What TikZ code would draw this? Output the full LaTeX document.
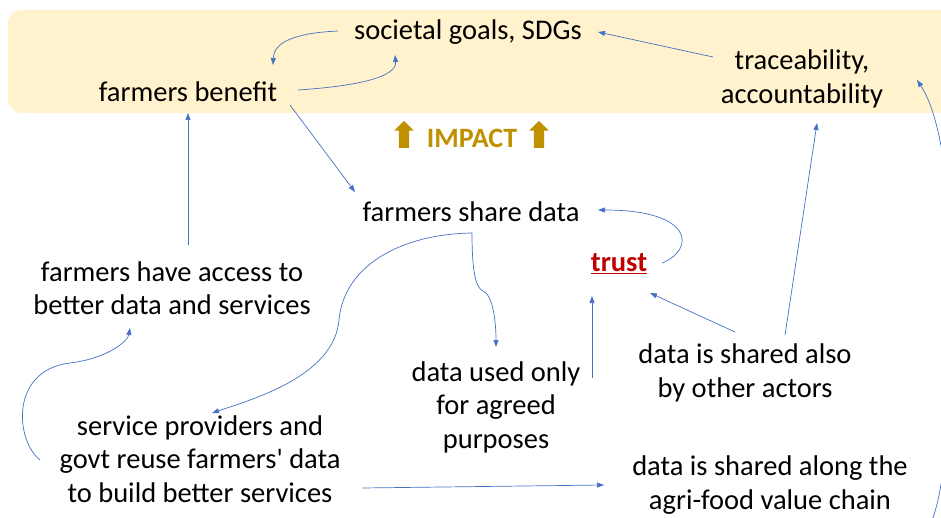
\documentclass[tikz,border=0pt]{standalone}
\usepackage{fontspec}
\setmainfont{Carlito}
\usetikzlibrary{arrows.meta,shapes.arrows,calc}
\definecolor{bandfill}{HTML}{FFF2CC}
\definecolor{linkblue}{HTML}{4472C4}
\definecolor{impactgold}{HTML}{BF9000}
\definecolor{trustred}{HTML}{C00000}

\begin{document}
\begin{tikzpicture}[x=1pt,y=-1pt,>={Triangle[length=7pt,width=5pt]}]
  \tikzstyle{item}=[align=center,text=black,font=\fontsize{28.5}{33.5}\selectfont]
  \tikzstyle{link}=[->,draw=linkblue,line width=0.7pt]
  \tikzstyle{uparrow}=[single arrow,draw=none,fill=impactgold,shape border rotate=90,
                       minimum width=19pt,minimum height=27pt,inner sep=5pt,
                       single arrow head extend=4.5pt]

  \useasboundingbox (0,0) rectangle (941,518);
  % impact band
  \fill[bandfill,rounded corners=14pt] (8,10) rectangle (970,113);

  \node[item] (goals)   at (468,32)  {societal goals, SDGs};
  \node[item] (benefit) at (188,92)  {farmers benefit};
  \node[item] (trace)   at (802,79)  {traceability,\\accountability};
  \node[item,text=impactgold,font=\fontsize{28}{33}\selectfont\bfseries] (impact) at (472,138) {IMPACT};
  \node[uparrow] (upl) at (404,137) {};
  \node[uparrow] (upr) at (539,137) {};
  \node[item] (share)   at (471,212) {farmers share data};
  \node[item,text=trustred,font=\fontsize{28.5}{33.5}\selectfont\bfseries] (trust) at (619,264) {\underline{trust}};
  \node[item] (access)  at (172,288) {farmers have access to\\better data and services};
  \node[item] (used)    at (496,407) {data used only\\for agreed\\purposes};
  \node[item] (others)  at (745,373) {data is shared also\\by other actors};
  \node[item] (reuse)   at (200,459) {service providers and\\govt reuse farmers\textquotesingle\ data\\to build better services};
  \node[item] (chain)   at (770,485) {data is shared along the\\agri-food value chain};

  % links
  \draw[link] ($(goals)+(-130,-1)$) .. controls +(-43,2) and +(1,-23) .. ($(benefit)+(85,-27)$);
  \draw[link] ($(benefit)+(110,-2)$) .. controls +(60,-4) and +(2,22) .. ($(goals)+(-73,23)$);
  \draw[link] ($(trace)+(-89,-22)$) -- ($(goals)+(130,0)$);
  \draw[link] ($(chain)+(162,35)$) .. controls +(25,-60) and +(50,75) .. ($(trace)+(115,1)$);
  \draw[link] ($(benefit)+(102,13)$) -- ($(share)+(-116,-20)$);
  \draw[link] ($(access)+(16,-43)$) -- ($(benefit)+(0,21)$);
  \draw[link] ($(trust)+(43,-1)$) .. controls +(33,-13) and +(97,0) .. ($(share)+(127,-2)$);
  \draw[link] ($(used)+(96,-29)$) -- ($(trust)+(-27,32)$);
  \draw[link] ($(others)+(-10,-41)$) -- ($(trust)+(31,29)$);
  \draw[link] ($(others)+(40,-38)$) -- ($(trace)+(15,44)$);
  \draw[link] ($(share)+(1,21)$) .. controls +(0,45) and +(-6,-3) .. ($(share)+(12,79)$)
     .. controls +(10,4) and +(0,-25) .. ($(used)+(0,-60)$);
  \draw[link] ($(share)+(1,21)$) .. controls +(-70,1) and +(5,-55) .. ($(share)+(-132,108)$)
     .. controls +(-5,55) and +(45,-15) .. ($(reuse)+(12,-46)$);
  \draw[link] ($(reuse)+(-160,1)$) .. controls +(-25,-20) and +(-60,7) .. ($(reuse)+(-130,-96)$)
     .. controls +(40,-5) and +(-2,12) .. ($(access)+(-42,40)$);
  \draw[link] ($(reuse)+(162,29)$) -- ($(chain)+(-166,0)$);
\end{tikzpicture}
\end{document}
